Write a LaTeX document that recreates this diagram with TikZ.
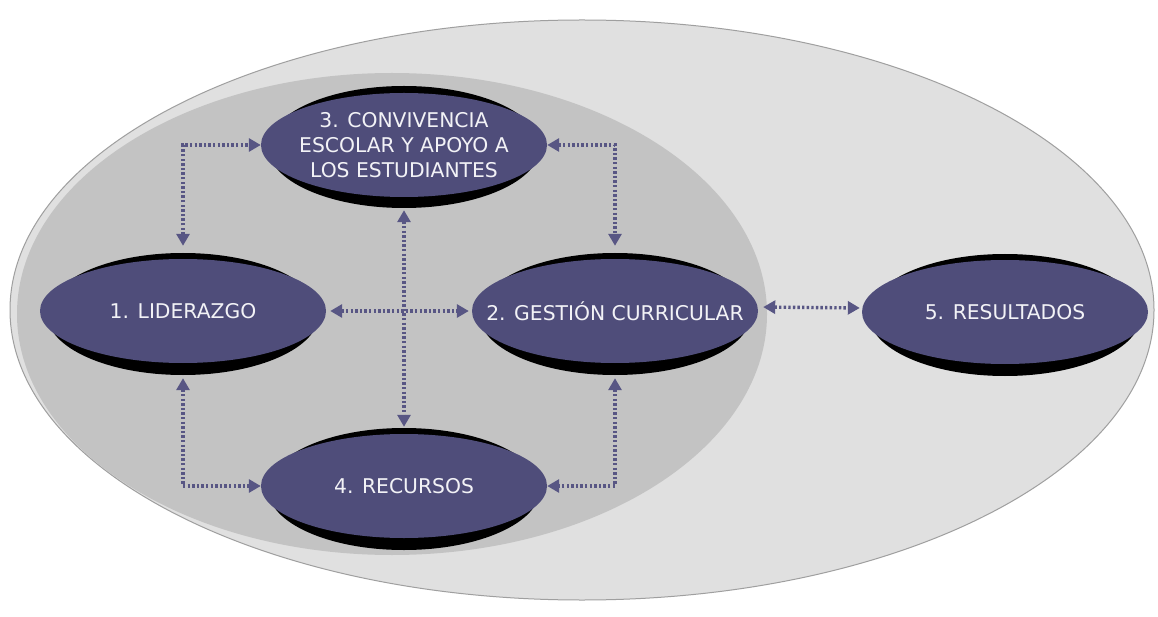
\documentclass[tikz,border=0pt]{standalone}
\usepackage{fontspec}
\setmainfont{DejaVu Sans}
\usetikzlibrary{arrows.meta,shapes.geometric}
\definecolor{nodepurple}{RGB}{79,77,122}
\definecolor{arrpurple}{RGB}{88,86,132}
\definecolor{outergray}{RGB}{224,224,224}
\definecolor{innergray}{RGB}{195,195,195}
\definecolor{txt}{RGB}{242,242,246}
\tikzset{
  ell/.style={ellipse, fill=nodepurple, draw=none, inner sep=0pt,
    minimum width=286pt, minimum height=104pt},
  lbl/.style={text=txt, align=center, inner sep=0pt,
    font=\fontsize{20.3}{25}\selectfont},
  shad/.style={ellipse, fill=black, draw=none, inner sep=0pt,
    minimum width=272pt, minimum height=122pt},
  arr/.style={draw=arrpurple, line width=3.4pt, dash pattern=on 2.4pt off 2.2pt,
    {Triangle[length=12pt,width=13pt,fill=arrpurple]}-{Triangle[length=12pt,width=13pt,fill=arrpurple]}},
}
\begin{document}
\begin{tikzpicture}[x=1pt,y=-1pt]
\useasboundingbox (0,0) rectangle (1158,617);
\fill[white] (0,0) rectangle (1158,617);
\node[ellipse, fill=outergray, draw=gray!75, line width=1pt, minimum width=1144pt, minimum height=580pt] (outer) at (582,310) {};
\node[ellipse, fill=innergray, draw=none, minimum width=750pt, minimum height=482pt] (inner) at (392,314) {};
% shadows
\node[shad] (s1) at (183,314) {};
\node[shad] (s2) at (615,314) {};
\node[shad] (s3) at (404,147) {};
\node[shad] (s4) at (404,489) {};
\node[shad] (s5) at (1005,315) {};
% nodes
\node[ell, label={[lbl]center:{1. LIDERAZGO}}] (n1) at (183,311) {};
\node[ell, label={[lbl]center:{2. GESTIÓN CURRICULAR}}] (n2) at (615,311) {};
\node[ell, label={[lbl]center:{3. CONVIVENCIA\\ESCOLAR Y APOYO A\\LOS ESTUDIANTES}}] (n3) at (404,145) {};
\node[ell, label={[lbl]center:{4. RECURSOS}}] (n4) at (404,486) {};
\node[ell, label={[lbl]center:{5. RESULTADOS}}] (n5) at (1005,312) {};
% connectors
\draw[arr, shorten <=7pt] (s1.north) |- (n3.west);
\draw[arr, shorten >=7pt] (n3.east) -| (s2.north);
\draw[arr, shorten <=3pt] (s1.south) |- (n4.west);
\draw[arr, shorten <=3pt] (s2.south) |- (n4.east);
\draw[arr, shorten <=2pt, shorten >=1pt] (s3.south) -- (s4.north);
\draw[arr, shorten <=4pt, shorten >=3pt] (n1.east) -- (n2.west);
\draw[arr, shorten <=5pt, shorten >=2pt] ([yshift=4pt]n2.east) -- ([yshift=4pt]n5.west);
\end{tikzpicture}
\end{document}
